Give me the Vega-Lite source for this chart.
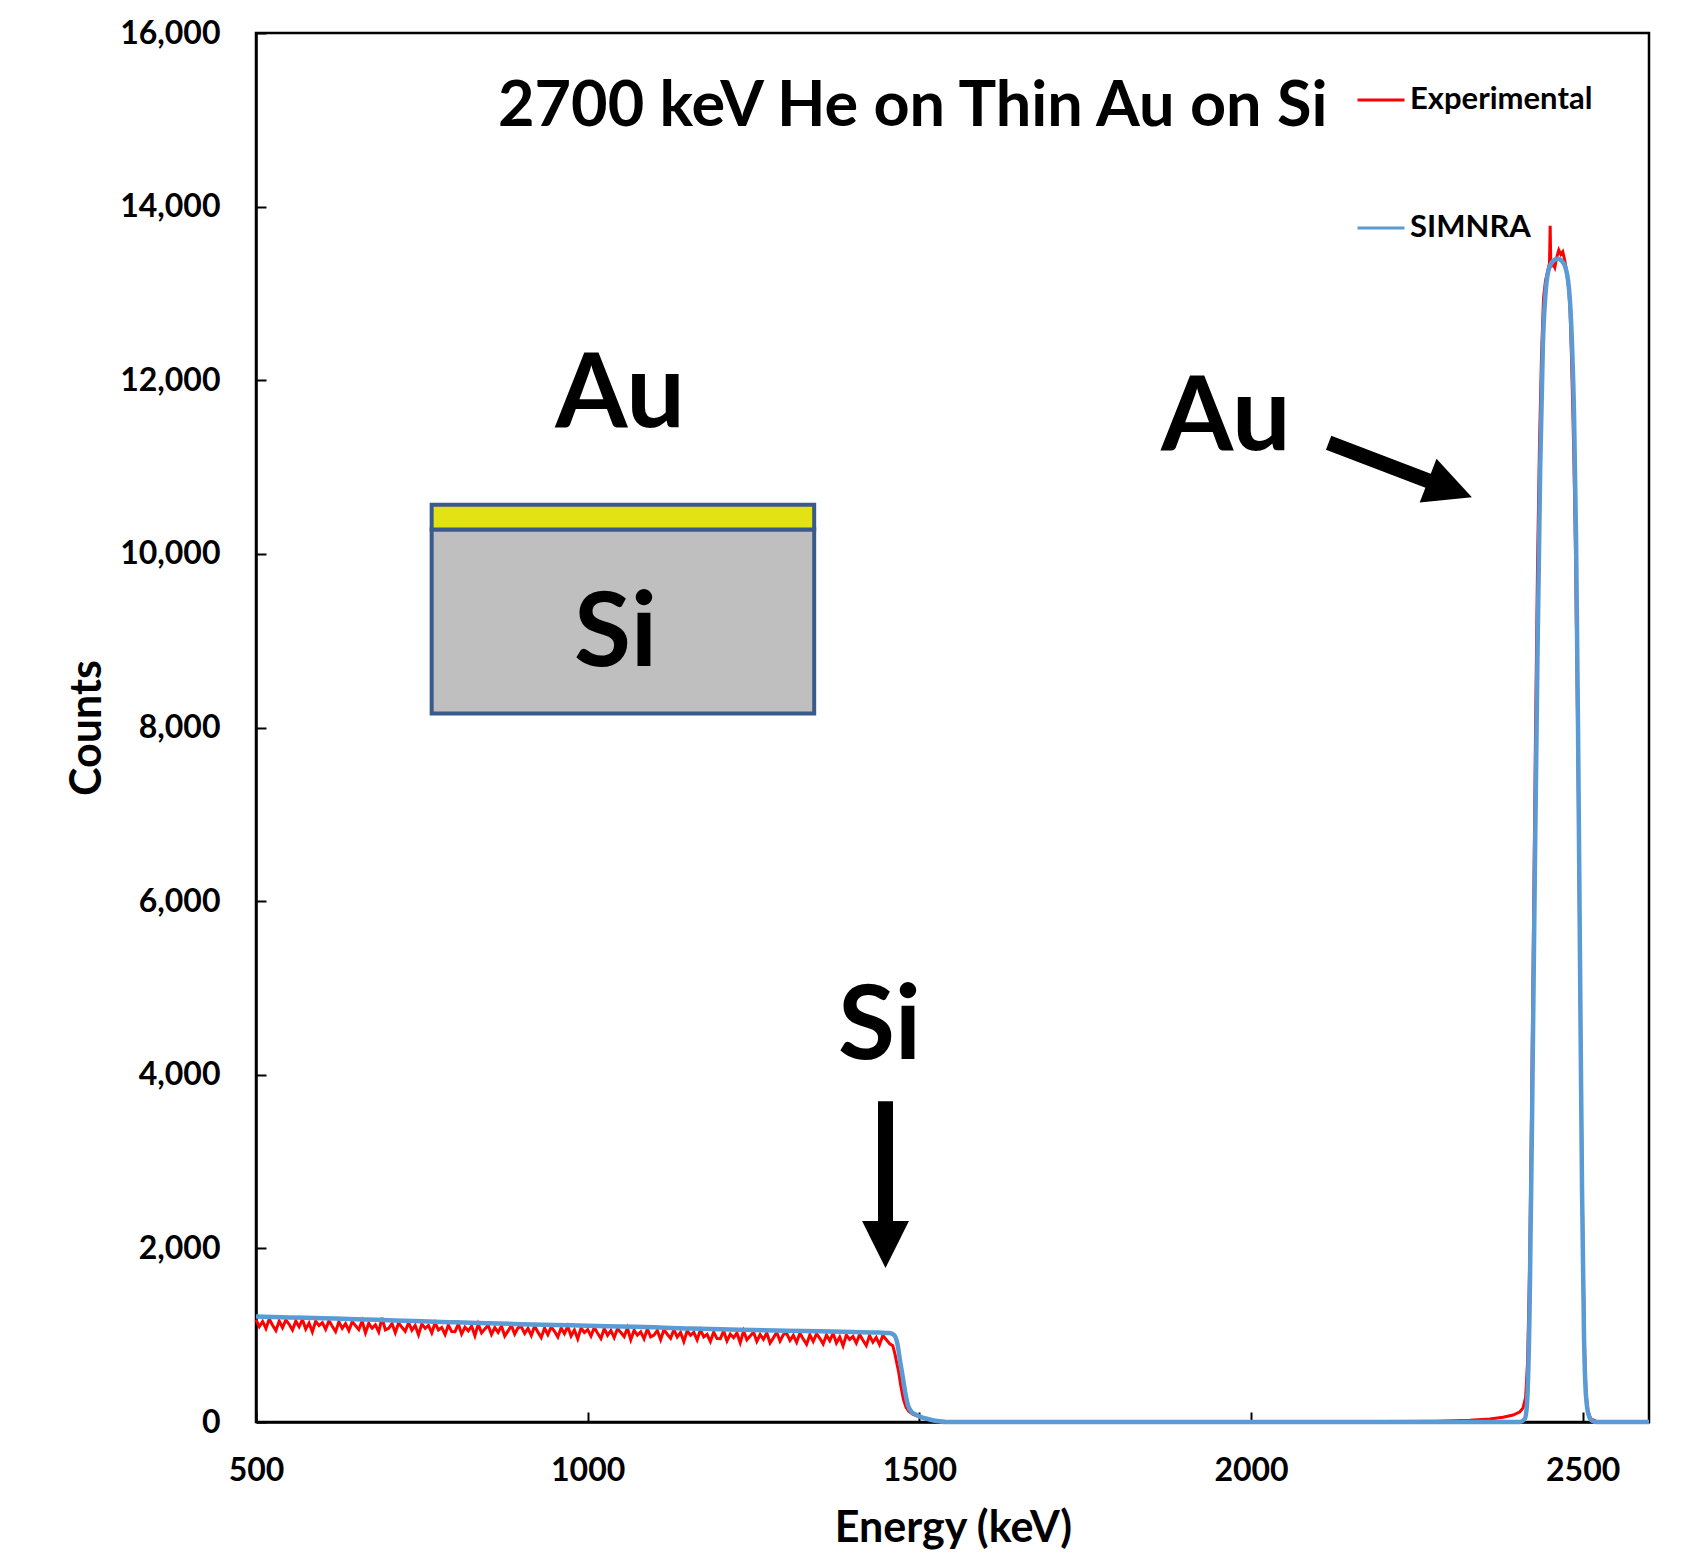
{
  "$schema": "https://vega.github.io/schema/vega-lite/v6.json",
  "autosize": {"type": "none"},
  "padding": {"left": 256, "top": 33, "right": 42, "bottom": 133},
  "width": 1393,
  "height": 1389,
  "config": {
    "font": "Lato",
    "view": {"stroke": "black", "strokeWidth": 2.5}
  },
  "datasets": {
    "exp": [
      {"energy":500,"counts":1180},{"energy":505,"counts":1099},{"energy":510,"counts":1158},{"energy":515,"counts":1077},{"energy":520,"counts":1186},{"energy":525,"counts":1115},{"energy":530,"counts":1054},{"energy":535,"counts":1163},{"energy":540,"counts":1087},{"energy":545,"counts":1176},
      {"energy":550,"counts":1125},{"energy":555,"counts":1059},{"energy":560,"counts":1163},{"energy":565,"counts":1097},{"energy":570,"counts":1181},{"energy":575,"counts":1070},{"energy":580,"counts":1139},{"energy":585,"counts":1038},{"energy":590,"counts":1162},{"energy":595,"counts":1111},
      {"energy":600,"counts":1145},{"energy":605,"counts":1069},{"energy":610,"counts":1168},{"energy":615,"counts":1102},{"energy":620,"counts":1041},{"energy":625,"counts":1155},{"energy":630,"counts":1079},{"energy":635,"counts":1133},{"energy":640,"counts":1052},{"energy":645,"counts":1156},
      {"energy":650,"counts":1110},{"energy":655,"counts":1064},{"energy":660,"counts":1163},{"energy":665,"counts":1027},{"energy":670,"counts":1136},{"energy":675,"counts":1080},{"energy":680,"counts":1119},{"energy":685,"counts":1038},{"energy":690,"counts":1200},{"energy":695,"counts":1061},
      {"energy":700,"counts":1080},{"energy":705,"counts":1134},{"energy":710,"counts":1028},{"energy":715,"counts":1142},{"energy":720,"counts":1091},{"energy":725,"counts":1045},{"energy":730,"counts":1144},{"energy":735,"counts":1058},{"energy":740,"counts":1112},{"energy":745,"counts":1006},
      {"energy":750,"counts":1130},{"energy":755,"counts":1079},{"energy":760,"counts":1113},{"energy":765,"counts":1027},{"energy":770,"counts":1141},{"energy":775,"counts":1060},{"energy":780,"counts":1089},{"energy":785,"counts":1008},{"energy":790,"counts":1117},{"energy":795,"counts":1041},
      {"energy":800,"counts":1040},{"energy":805,"counts":1129},{"energy":810,"counts":1013},{"energy":815,"counts":1092},{"energy":820,"counts":1051},{"energy":825,"counts":1105},{"energy":830,"counts":994},{"energy":835,"counts":1128},{"energy":840,"counts":1027},{"energy":845,"counts":1071},
      {"energy":850,"counts":1115},{"energy":855,"counts":1009},{"energy":860,"counts":1088},{"energy":865,"counts":1032},{"energy":870,"counts":1106},{"energy":875,"counts":990},{"energy":880,"counts":1049},{"energy":885,"counts":1113},{"energy":890,"counts":1012},{"energy":895,"counts":1086},
      {"energy":900,"counts":1100},{"energy":905,"counts":1019},{"energy":910,"counts":1078},{"energy":915,"counts":997},{"energy":920,"counts":1106},{"energy":925,"counts":1035},{"energy":930,"counts":974},{"energy":935,"counts":1083},{"energy":940,"counts":1007},{"energy":945,"counts":1096},
      {"energy":950,"counts":1045},{"energy":955,"counts":979},{"energy":960,"counts":1083},{"energy":965,"counts":1017},{"energy":970,"counts":1101},{"energy":975,"counts":990},{"energy":980,"counts":1059},{"energy":985,"counts":958},{"energy":990,"counts":1082},{"energy":995,"counts":1031},
      {"energy":1000,"counts":1065},{"energy":1005,"counts":989},{"energy":1010,"counts":1088},{"energy":1015,"counts":1022},{"energy":1020,"counts":961},{"energy":1025,"counts":1075},{"energy":1030,"counts":999},{"energy":1035,"counts":1053},{"energy":1040,"counts":972},{"energy":1045,"counts":1076},
      {"energy":1050,"counts":1030},{"energy":1055,"counts":984},{"energy":1060,"counts":1083},{"energy":1065,"counts":947},{"energy":1070,"counts":1056},{"energy":1075,"counts":1000},{"energy":1080,"counts":1039},{"energy":1085,"counts":958},{"energy":1090,"counts":1072},{"energy":1095,"counts":981},
      {"energy":1100,"counts":1000},{"energy":1105,"counts":1054},{"energy":1110,"counts":948},{"energy":1115,"counts":1062},{"energy":1120,"counts":1011},{"energy":1125,"counts":965},{"energy":1130,"counts":1064},{"energy":1135,"counts":978},{"energy":1140,"counts":1032},{"energy":1145,"counts":926},
      {"energy":1150,"counts":1050},{"energy":1155,"counts":999},{"energy":1160,"counts":1033},{"energy":1165,"counts":947},{"energy":1170,"counts":1061},{"energy":1175,"counts":980},{"energy":1180,"counts":1009},{"energy":1185,"counts":928},{"energy":1190,"counts":1037},{"energy":1195,"counts":961},
      {"energy":1200,"counts":960},{"energy":1205,"counts":1049},{"energy":1210,"counts":933},{"energy":1215,"counts":1012},{"energy":1220,"counts":971},{"energy":1225,"counts":1025},{"energy":1230,"counts":914},{"energy":1235,"counts":1048},{"energy":1240,"counts":947},{"energy":1245,"counts":991},
      {"energy":1250,"counts":1035},{"energy":1255,"counts":929},{"energy":1260,"counts":1008},{"energy":1265,"counts":952},{"energy":1270,"counts":1026},{"energy":1275,"counts":910},{"energy":1280,"counts":969},{"energy":1285,"counts":1033},{"energy":1290,"counts":932},{"energy":1295,"counts":1006},
      {"energy":1300,"counts":1020},{"energy":1305,"counts":939},{"energy":1310,"counts":998},{"energy":1315,"counts":917},{"energy":1320,"counts":1026},{"energy":1325,"counts":955},{"energy":1330,"counts":894},{"energy":1335,"counts":1003},{"energy":1340,"counts":927},{"energy":1345,"counts":1016},
      {"energy":1350,"counts":965},{"energy":1355,"counts":899},{"energy":1360,"counts":1003},{"energy":1365,"counts":937},{"energy":1370,"counts":1021},{"energy":1375,"counts":910},{"energy":1380,"counts":979},{"energy":1385,"counts":878},{"energy":1390,"counts":1002},{"energy":1395,"counts":951},
      {"energy":1400,"counts":985},{"energy":1405,"counts":909},{"energy":1410,"counts":1008},{"energy":1415,"counts":942},{"energy":1420,"counts":881},{"energy":1425,"counts":995},{"energy":1430,"counts":919},{"energy":1435,"counts":973},{"energy":1440,"counts":892},{"energy":1445,"counts":996},
      {"energy":1450,"counts":950},{"energy":1455,"counts":904},{"energy":1460,"counts":880},{"energy":1463,"counts":790},{"energy":1466,"counts":680},{"energy":1469,"counts":570},{"energy":1472,"counts":420},{"energy":1476,"counts":260},{"energy":1480,"counts":170},{"energy":1484,"counts":125},
      {"energy":1490,"counts":90},{"energy":1496,"counts":70},{"energy":1501,"counts":60},{"energy":1510,"counts":35},{"energy":1520,"counts":20},{"energy":1530,"counts":12},{"energy":1540,"counts":6},{"energy":1560,"counts":4},{"energy":1600,"counts":3},{"energy":1700,"counts":2},
      {"energy":1800,"counts":2},{"energy":1900,"counts":2},{"energy":2000,"counts":2},{"energy":2100,"counts":3},{"energy":2200,"counts":5},{"energy":2280,"counts":10},{"energy":2330,"counts":20},{"energy":2360,"counts":35},{"energy":2380,"counts":55},{"energy":2395,"counts":80},
      {"energy":2405,"counts":115},{"energy":2410,"counts":160},{"energy":2414,"counts":280},{"energy":2417,"counts":700},{"energy":2420,"counts":1800},{"energy":2423,"counts":3600},{"energy":2426,"counts":5800},{"energy":2429,"counts":8000},{"energy":2432,"counts":9900},{"energy":2435,"counts":11300},
      {"energy":2438,"counts":12300},{"energy":2441,"counts":12950},{"energy":2444,"counts":13150},{"energy":2447,"counts":13250},{"energy":2450,"counts":13350},{"energy":2451,"counts":13780},{"energy":2452,"counts":13300},{"energy":2455,"counts":13350},{"energy":2458,"counts":13300},{"energy":2461,"counts":13420},
      {"energy":2464,"counts":13500},{"energy":2467,"counts":13450},{"energy":2470,"counts":13480},{"energy":2473,"counts":13380},{"energy":2476,"counts":13250},{"energy":2479,"counts":13050},{"energy":2481,"counts":12800},{"energy":2483,"counts":12300},{"energy":2485,"counts":11700},{"energy":2487,"counts":11000},
      {"energy":2489,"counts":10100},{"energy":2491,"counts":8900},{"energy":2493,"counts":7600},{"energy":2495,"counts":6000},{"energy":2497,"counts":4400},{"energy":2499,"counts":2900},{"energy":2501,"counts":1700},{"energy":2503,"counts":800},{"energy":2505,"counts":350},{"energy":2508,"counts":120},
      {"energy":2512,"counts":40},{"energy":2520,"counts":10},{"energy":2540,"counts":3},{"energy":2600,"counts":2}
    ],
    "sim": [
      {"energy":500,"counts":1215},{"energy":550,"counts":1205},{"energy":600,"counts":1195},{"energy":650,"counts":1185},{"energy":700,"counts":1172},{"energy":750,"counts":1160},{"energy":800,"counts":1148},{"energy":850,"counts":1137},{"energy":900,"counts":1127},{"energy":950,"counts":1118},
      {"energy":1000,"counts":1110},{"energy":1050,"counts":1100},{"energy":1100,"counts":1090},{"energy":1150,"counts":1078},{"energy":1200,"counts":1068},{"energy":1250,"counts":1060},{"energy":1300,"counts":1052},{"energy":1350,"counts":1045},{"energy":1400,"counts":1037},{"energy":1440,"counts":1030},
      {"energy":1455,"counts":1025},{"energy":1462,"counts":1000},{"energy":1467,"counts":900},{"energy":1471,"counts":700},{"energy":1475,"counts":520},{"energy":1479,"counts":330},{"energy":1483,"counts":190},{"energy":1488,"counts":120},{"energy":1495,"counts":85},{"energy":1502,"counts":60},
      {"energy":1510,"counts":40},{"energy":1520,"counts":20},{"energy":1530,"counts":8},{"energy":1540,"counts":0},{"energy":2405,"counts":0},{"energy":2413,"counts":40},{"energy":2416,"counts":200},{"energy":2420,"counts":1300},{"energy":2424,"counts":3700},{"energy":2428,"counts":6400},
      {"energy":2432,"counts":8900},{"energy":2436,"counts":11000},{"energy":2440,"counts":12400},{"energy":2444,"counts":13000},{"energy":2448,"counts":13250},{"energy":2455,"counts":13370},{"energy":2462,"counts":13400},{"energy":2468,"counts":13380},{"energy":2474,"counts":13300},{"energy":2478,"counts":13150},
      {"energy":2481,"counts":12900},{"energy":2484,"counts":12400},{"energy":2487,"counts":11600},{"energy":2490,"counts":10200},{"energy":2493,"counts":8000},{"energy":2496,"counts":5300},{"energy":2499,"counts":2700},{"energy":2502,"counts":1000},{"energy":2505,"counts":300},{"energy":2509,"counts":80},
      {"energy":2514,"counts":15},{"energy":2520,"counts":0},{"energy":2600,"counts":0}
    ],
    "siBox": [{"energy":764.8,"energy2":1341.5,"counts":8161,"counts2":10281}],
    "auBox": [{"energy":764.8,"energy2":1341.5,"counts":10281,"counts2":10565}],
    "labels": [
      {"label":"Au","energy":1049,"counts":11460},
      {"label":"Si","energy":1042,"counts":8706},
      {"label":"Si","energy":1440,"counts":4176},
      {"label":"Au","energy":1962,"counts":11202}
    ],
    "titleText": [{"label":"2700 keV He on Thin Au on Si","energy":1490,"counts":14923}],
    "shafts": [
      {"energy":1449,"energy2":1449,"counts":3695,"counts2":2200},
      {"energy":2117,"energy2":2270,"counts":11279,"counts2":10835}
    ],
    "headDown": [{"energy":1449,"counts":2045}],
    "headDiag": [{"energy":2300,"counts":10748}]
  },
  "encoding": {
    "x": {
      "field": "energy", "type": "quantitative",
      "scale": {"domain": [500, 2600], "nice": false, "zero": false},
      "axis": {
        "values": [500, 1000, 1500, 2000, 2500], "format": "d", "grid": false,
        "labelFont": "Lato", "labelFontSize": 32, "labelFontWeight": "bold", "labelColor": "black",
        "labelFlush": false, "labelOverlap": false, "labelPadding": 43,
        "domainColor": "black", "domainWidth": 2.5,
        "tickColor": "black", "tickWidth": 2, "tickSize": -10,
        "title": "Energy (keV)", "titleFont": "Lato", "titleFontSize": 43, "titleFontWeight": "bold", "titleColor": "black",
        "titleX": 697, "titleY": 106, "titleBaseline": "middle", "titleAlign": "center"
      }
    },
    "y": {
      "field": "counts", "type": "quantitative",
      "scale": {"domain": [0, 16000], "nice": false},
      "axis": {
        "values": [0, 2000, 4000, 6000, 8000, 10000, 12000, 14000, 16000], "format": ",.0f", "grid": false,
        "labelFont": "Lato", "labelFontSize": 32, "labelFontWeight": "bold", "labelColor": "black",
        "labelOverlap": false, "labelPadding": 46,
        "domainColor": "black", "domainWidth": 2.5,
        "tickColor": "black", "tickWidth": 2, "tickSize": -10,
        "title": "Counts", "titleFont": "Lato", "titleFontSize": 43, "titleFontWeight": "bold", "titleColor": "black",
        "titleX": -169, "titleY": 694.5, "titleAngle": -90, "titleBaseline": "middle", "titleAlign": "center"
      }
    }
  },
  "layer": [
    {
      "data": {"name": "siBox"},
      "mark": {"type": "rect", "fill": "#bfbfbf", "stroke": "#3a5a8c", "strokeWidth": 4},
      "encoding": {"x2": {"field": "energy2"}, "y2": {"field": "counts2"}}
    },
    {
      "data": {"name": "auBox"},
      "mark": {"type": "rect", "fill": "#e2e214", "stroke": "#3a5a8c", "strokeWidth": 4},
      "encoding": {"x2": {"field": "energy2"}, "y2": {"field": "counts2"}}
    },
    {
      "data": {"name": "exp"},
      "mark": {"type": "line", "strokeWidth": 3, "interpolate": "linear"},
      "encoding": {
        "color": {
          "datum": "Experimental",
          "scale": {"domain": ["Experimental", "SIMNRA"], "range": ["#ff0000", "#5b9bd5"]},
          "legend": {
            "orient": "none", "legendX": 1100, "legendY": 42, "title": null,
            "symbolType": "stroke", "symbolSize": 2209, "symbolStrokeWidth": 3,
            "labelFont": "Lato", "labelFontSize": 31, "labelFontWeight": "bold", "labelColor": "black",
            "labelLimit": 0, "rowPadding": 88, "labelOffset": 4, "padding": 0
          }
        }
      }
    },
    {
      "data": {"name": "sim"},
      "mark": {"type": "line", "strokeWidth": 4.5, "interpolate": "monotone"},
      "encoding": {"color": {"datum": "SIMNRA"}}
    },
    {
      "data": {"name": "labels"},
      "mark": {"type": "text", "fontSize": 104, "fontWeight": "bold", "font": "Lato", "color": "black", "align": "center", "baseline": "alphabetic"},
      "encoding": {"text": {"field": "label"}}
    },
    {
      "data": {"name": "titleText"},
      "mark": {"type": "text", "fontSize": 63, "fontWeight": "bold", "font": "Lato", "color": "black", "align": "center", "baseline": "alphabetic"},
      "encoding": {"text": {"field": "label"}}
    },
    {
      "data": {"name": "shafts"},
      "mark": {"type": "rule", "strokeWidth": 15, "color": "black", "strokeCap": "butt"},
      "encoding": {"x2": {"field": "energy2"}, "y2": {"field": "counts2"}}
    },
    {
      "data": {"name": "headDown"},
      "mark": {"type": "point", "shape": "M-1,-1L1,-1L0,1Z", "size": 2200, "filled": true, "color": "black", "opacity": 1, "strokeWidth": 0},
      "encoding": {}
    },
    {
      "data": {"name": "headDiag"},
      "mark": {"type": "point", "shape": "M-1,-1L1,0L-1,1Z", "size": 2200, "angle": 21, "filled": true, "color": "black", "opacity": 1, "strokeWidth": 0},
      "encoding": {}
    }
  ]
}
